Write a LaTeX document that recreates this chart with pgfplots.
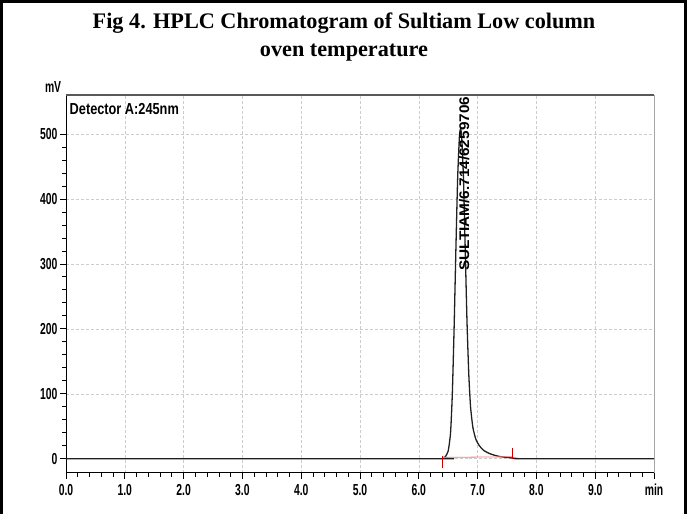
\documentclass[border=0pt]{standalone}
\usepackage{fontspec}
\setmainfont{Liberation Serif}
\newfontfamily\condfont[FakeStretch=0.65]{Liberation Sans Bold}
\newfontfamily\detfont[FakeStretch=0.8]{Liberation Sans Bold}
\newfontfamily\labfont[FakeStretch=1.1]{Liberation Sans Bold}
\usepackage{pgfplots}
\pgfplotsset{compat=1.18}

\begin{document}
\begin{tikzpicture}[x=1bp,y=1bp]
\useasboundingbox (0,0) rectangle (687,514);
% frame of the figure cell (no bottom edge)
\draw[line width=3bp] (1.5,0) -- (1.5,512.5) -- (685.5,512.5) -- (685.5,0);
\node[font=\bfseries\fontsize{22.3}{26}\selectfont] at (344,491) {Fig 4. HPLC Chromatogram of Sultiam Low column};
\node[font=\bfseries\fontsize{22.3}{26}\selectfont] at (344,461) {oven temperature};

\begin{axis}[
  at={(66bp,41bp)}, anchor=south west,
  scale only axis, width=588bp, height=378bp,
  xmin=0, xmax=10, ymin=-22, ymax=560,
  axis x line=bottom, axis y line=left,
  axis line style={-, black, line width=1pt},
  tick align=outside,
  major tick length=6bp, minor tick length=4bp,
  tick style={black, line width=0.7pt},
  xtick={0,1,...,10},
  xticklabels={0.0,1.0,2.0,3.0,4.0,5.0,6.0,7.0,8.0,9.0,min},
  minor x tick num=4,
  ytick={0,100,200,300,400,500},
  yticklabels={0,100,200,300,400,500},
  minor y tick num=4,
  ticklabel style={font=\condfont\fontsize{16}{16}\selectfont},
  xticklabel style={yshift=-1bp, text height=11.5bp, text depth=0bp},
  yticklabel style={xshift=1bp},
  grid=major,
  grid style={densely dashed, gray!40, line width=0.5pt},
  clip=false,
]
% chromatogram trace
\addplot[gray!25!black, line width=1.3pt, smooth, tension=0.35] coordinates {
  (0,0) (6.30,0) (6.40,0.5) (6.45,3) (6.50,12) (6.54,40) (6.57,100)
  (6.60,200) (6.63,320) (6.66,430) (6.69,495) (6.71,508) (6.73,495)
  (6.76,430) (6.79,320) (6.82,210) (6.85,130) (6.88,80) (6.92,48)
  (6.97,30) (7.03,20) (7.10,13) (7.20,8) (7.30,5) (7.40,3) (7.55,1.5)
  (7.65,0.5) (7.75,0) (10,0)
};
% integration baseline and markers
\addplot[red!55, line width=0.8pt] coordinates {(6.40,2) (7.60,3)};
\addplot[red!80!black, line width=0.8pt] coordinates {(6.40,-15) (6.40,4)};
\addplot[red!80!black, line width=0.8pt] coordinates {(7.60,16) (7.60,0)};
% top and right border of the plot
\draw[gray!70!black, line width=2.2pt] (rel axis cs:0,1) -- (rel axis cs:1,1);
\draw[gray!70, line width=0.8pt] (rel axis cs:1,1) -- (rel axis cs:1,0);
% annotations
\node[font=\condfont\fontsize{16}{16}\selectfont, anchor=south, inner sep=0pt] at (rel axis cs:-0.022,1.006) {mV};
\node[font=\detfont\fontsize{16}{16}\selectfont, anchor=west, inner sep=0pt] at (axis cs:0.06,538) {Detector A:245nm};
\node[font=\labfont\fontsize{14}{14}\selectfont, rotate=90, anchor=east, inner sep=1pt] at (axis cs:6.77,559) {SULTIAM/6.714/6259706};
\end{axis}
\end{tikzpicture}
\end{document}
